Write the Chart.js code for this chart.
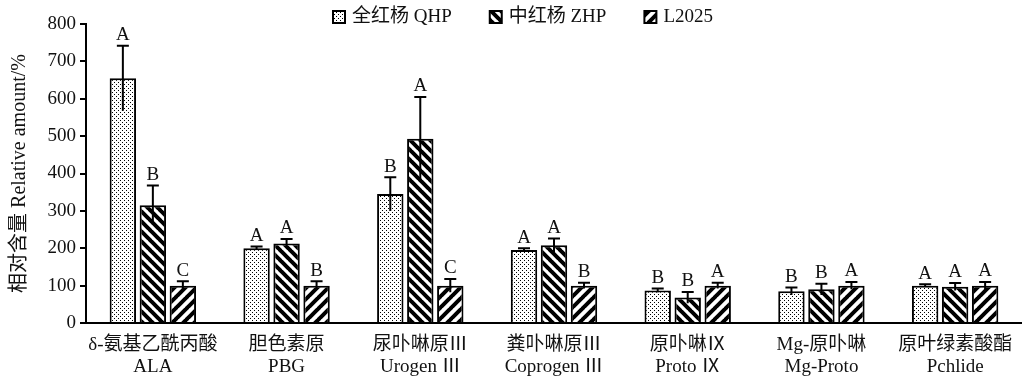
<!DOCTYPE html>
<html>
<head>
<meta charset="utf-8">
<script src="https://cdn.jsdelivr.net/npm/chart.js@4.4.1/dist/chart.umd.min.js"></script>
<style>
  html, body { margin: 0; padding: 0; background: #fff; }
  #wrap { width: 1022px; height: 378px; position: relative; }
</style>
</head>
<body>
<div id="wrap"><canvas id="chart"></canvas></div>
<script>
// categories (two-line labels: Chinese / English)
let categories = [
    ['δ-氨基乙酰丙酸', 'ALA'],
    ['胆色素原', 'PBG'],
    ['尿卟啉原Ⅲ', 'Urogen Ⅲ'],
    ['粪卟啉原Ⅲ', 'Coprogen Ⅲ'],
    ['原卟啉Ⅸ', 'Proto Ⅸ'],
    ['Mg-原卟啉', 'Mg-Proto'],
    ['原叶绿素酸酯', 'Pchlide']
];
let seriesNames = ['全红杨 QHP', '中红杨 ZHP', 'L2025'];

let qhpValues = [655, 200, 345, 195, 87, 85, 100];
let zhpValues = [315, 213, 493, 208, 68, 90, 97];
let l2025Values = [100, 100, 100, 100, 100, 100, 100];

let qhpErrors = [87, 5, 45, 5, 5, 10, 4];
let zhpErrors = [53, 12, 112, 18, 15, 15, 10];
let l2025Errors = [12, 12, 18, 8, 8, 10, 10];

let qhpLetters = ['A', 'A', 'B', 'A', 'B', 'B', 'A'];
let zhpLetters = ['B', 'A', 'A', 'A', 'B', 'B', 'A'];
let l2025Letters = ['C', 'B', 'C', 'B', 'A', 'A', 'A'];

let yTicks = [0, 100, 200, 300, 400, 500, 600, 700, 800];

const serif = '"Liberation Serif", "Times New Roman", "Noto Sans CJK SC", serif';
const textColor = '#111';

function makePattern(type) {
    let c = document.createElement('canvas');
    let g = c.getContext('2d');
    if (type === 'dots') {
        c.width = 4; c.height = 4;
        g.fillStyle = '#fff'; g.fillRect(0, 0, 4, 4);
        g.fillStyle = '#000';
        g.fillRect(0, 0, 1, 1);
        g.fillRect(2, 2, 1, 1);
    } else {
        let s = type === 'back' ? 10 : 11;
        c.width = s; c.height = s;
        g.fillStyle = '#fff'; g.fillRect(0, 0, s, s);
        g.strokeStyle = '#000';
        g.lineWidth = 4;
        g.beginPath();
        for (let x0 = -s; x0 <= s; x0 += s) {
            if (type === 'back') {
                g.moveTo(x0 - 1, -1); g.lineTo(x0 + s + 1, s + 1);
            } else {
                g.moveTo(x0 - 1, s + 1); g.lineTo(x0 + s + 1, -1);
            }
        }
        g.stroke();
    }
    return g.createPattern(c, 'repeat');
}

let patterns = [makePattern('dots'), makePattern('back'), makePattern('fwd')];
let errors = [qhpErrors, zhpErrors, l2025Errors];
let letters = [qhpLetters, zhpLetters, l2025Letters];

// error bars + significance letters
const errorBarPlugin = {
    id: 'errorBars',
    afterDatasetsDraw(chart) {
        let ctx = chart.ctx;
        let y = chart.scales.y;
        ctx.save();
        ctx.strokeStyle = '#000';
        ctx.fillStyle = textColor;
        ctx.lineWidth = 2;
        ctx.font = '19px ' + serif;
        ctx.textAlign = 'center';
        ctx.textBaseline = 'bottom';
        chart.data.datasets.forEach((ds, i) => {
            let meta = chart.getDatasetMeta(i);
            meta.data.forEach((bar, j) => {
                let v = ds.data[j];
                let e = errors[i][j];
                let top = y.getPixelForValue(v + e);
                let bot = y.getPixelForValue(v - e);
                ctx.beginPath();
                ctx.moveTo(bar.x, bot);
                ctx.lineTo(bar.x, top);
                ctx.moveTo(bar.x - 6, top);
                ctx.lineTo(bar.x + 6, top);
                ctx.stroke();
                ctx.fillText(letters[i][j], bar.x, top - 1);
            });
        });
        ctx.restore();
    }
};

// legend drawn at the top
const legendPlugin = {
    id: 'topLegend',
    afterDraw(chart) {
        let ctx = chart.ctx;
        ctx.save();
        ctx.font = '19px ' + serif;
        ctx.textBaseline = 'middle';
        let x = 333;
        let yc = 17;
        seriesNames.forEach((name, i) => {
            ctx.fillStyle = patterns[i];
            ctx.fillRect(x, yc - 6, 12, 12);
            ctx.strokeStyle = '#000';
            ctx.lineWidth = 2;
            ctx.strokeRect(x, yc - 6, 12, 12);
            ctx.fillStyle = textColor;
            ctx.fillText(name, x + 19, yc);
            x += 19 + ctx.measureText(name).width + 38;
        });
        ctx.restore();
    }
};

let datasets = [qhpValues, zhpValues, l2025Values].map((vals, i) => ({
    label: seriesNames[i],
    data: vals,
    backgroundColor: patterns[i],
    borderColor: '#000',
    borderWidth: 2,
    borderSkipped: 'bottom'
}));

let chart = new Chart(document.getElementById('chart'), {
    type: 'bar',
    data: { labels: categories, datasets: datasets },
    plugins: [errorBarPlugin, legendPlugin],
    options: {
        responsive: true,
        maintainAspectRatio: false,
        animation: false,
        layout: { padding: { top: 24, right: 0, left: 0, bottom: 0 } },
        plugins: {
            legend: { display: false },
            tooltip: { enabled: false }
        },
        datasets: {
            bar: { categoryPercentage: 0.673, barPercentage: 0.88 }
        },
        scales: {
            x: {
                grid: { display: false },
                border: { display: true, color: '#000', width: 2 },
                ticks: {
                    color: textColor,
                    font: { family: serif, size: 19, lineHeight: 1.15 },
                    maxRotation: 0,
                    autoSkip: false,
                    padding: 3
                },
                afterFit(scale) { scale.height = 55; }
            },
            y: {
                min: 0,
                max: 800,
                afterBuildTicks(scale) { scale.ticks = yTicks.map(v => ({ value: v })); },
                grid: { drawOnChartArea: false, drawTicks: true, tickLength: 6, color: '#000', lineWidth: 2 },
                border: { display: true, color: '#000', width: 2 },
                ticks: {
                    color: textColor,
                    font: { family: serif, size: 19 },
                    padding: 4
                },
                title: {
                    display: true,
                    text: '相对含量 Relative amount/%',
                    color: textColor,
                    font: { family: serif, size: 20 },
                    padding: { top: 8, bottom: 0 }
                },
                afterFit(scale) { scale.width = 86; }
            }
        }
    }
});
</script>
</body>
</html>
